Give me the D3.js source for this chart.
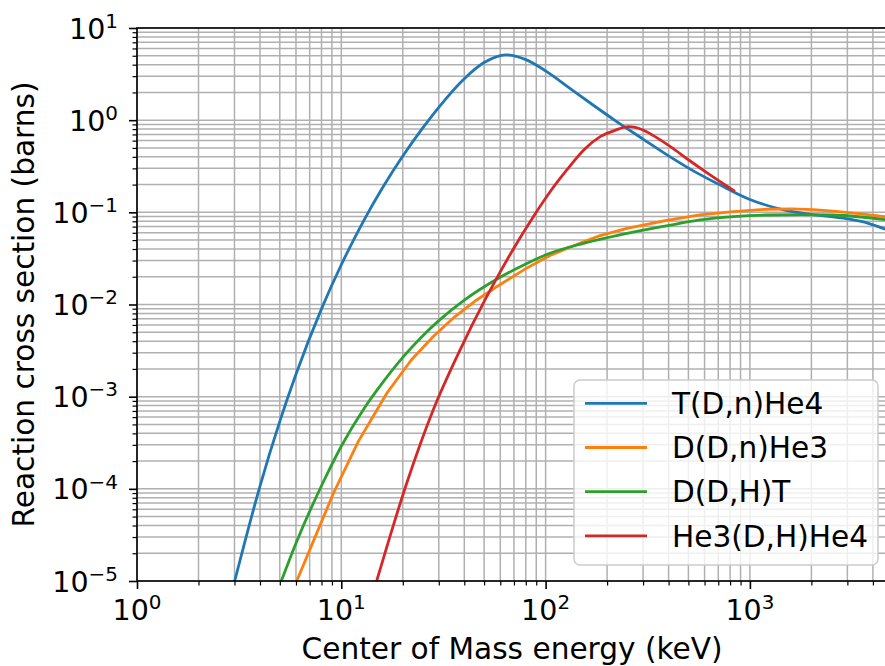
<!DOCTYPE html>
<html>
<head>
<meta charset="utf-8">
<script src="https://cdn.jsdelivr.net/npm/d3@7"></script>
<style>
  html, body { margin: 0; padding: 0; background: #fff; }
  svg { display: block; }
  text { font-family: "DejaVu Sans", sans-serif; fill: #000; }
</style>
</head>
<body>
<svg id="chart" width="885" height="666"></svg>
<script>
// Reaction cross sections (barns) vs centre-of-mass energy (keV)
const seriesNames = ["T(D,n)He4", "D(D,n)He3", "D(D,H)T", "He3(D,H)He4"];
const seriesColors = ["#1f77b4", "#ff7f0e", "#2ca02c", "#d62728"];

const dtEnergy = [3, 4, 5, 6, 8, 10, 13, 16, 20, 25, 30, 40, 50, 64, 80, 100, 130, 170, 220, 300, 400, 550, 700, 1000, 1500, 2000, 3000, 3800, 4700];
const dtSigma  = [9.8e-6, 1.07e-4, 5.39e-4, 1.75e-3, 8.97e-3, 0.027, 0.0845, 0.188, 0.408, 0.82, 1.38, 2.82, 4.22, 5.12, 4.54, 3.43, 2.26, 1.47, 0.984, 0.623, 0.41, 0.268, 0.203, 0.138, 0.105, 0.095, 0.085, 0.076, 0.0645];

const ddnEnergy = [6.05, 9.14, 12.1, 16.7, 22, 28.2, 36, 46, 60, 80, 105, 150, 185, 250, 392, 570, 829, 1208, 1600, 2043, 2559, 3500, 4700];
const ddnSigma  = [1e-5, 8.9e-5, 3.25e-4, 1.09e-3, 2.5e-3, 4.5e-3, 7.4e-3, 0.0112, 0.0165, 0.0245, 0.034, 0.047, 0.056, 0.067, 0.082, 0.094, 0.1017, 0.108, 0.109, 0.107, 0.103, 0.096, 0.089];

const ddpEnergy = [5, 6, 8, 10, 13, 16, 20, 25, 30, 40, 57.6, 80, 105, 150, 200, 300, 400, 570, 829, 1208, 1800, 2559, 3500, 4700];
const ddpSigma  = [9.04e-6, 2.57e-5, 1.08e-4, 2.9e-4, 7.6e-4, 1.44e-3, 2.67e-3, 4.56e-3, 6.68e-3, 0.01116, 0.0188, 0.0275, 0.036, 0.0455, 0.053, 0.064, 0.072, 0.0826, 0.0897, 0.0935, 0.0945, 0.0935, 0.089, 0.0826];

const dhe3Energy = [14.9, 20.9, 28.2, 38.1, 50.5, 57.6, 70, 87.1, 105, 127, 155, 185, 220, 254, 300, 337, 420, 500, 600, 700, 845];
const dhe3Sigma  = [1e-5, 1.15e-4, 7.2e-4, 3.2e-3, 0.0112, 0.0192, 0.0411, 0.0897, 0.166, 0.288, 0.484, 0.662, 0.78, 0.85, 0.782, 0.68, 0.494, 0.372, 0.28, 0.222, 0.1686];

const xTickExps = [0, 1, 2, 3];
const yTickExps = [-5, -4, -3, -2, -1, 0, 1];

const series = [
  { name: seriesNames[0], color: seriesColors[0], E: dtEnergy,   s: dtSigma,   curve: d3.curveMonotoneX },
  { name: seriesNames[1], color: seriesColors[1], E: ddnEnergy,  s: ddnSigma,  curve: d3.curveLinear },
  { name: seriesNames[2], color: seriesColors[2], E: ddpEnergy,  s: ddpSigma,  curve: d3.curveMonotoneX },
  { name: seriesNames[3], color: seriesColors[3], E: dhe3Energy, s: dhe3Sigma, curve: d3.curveMonotoneX }
];

// Layout
const plotLeft = 137, plotTop = 28, plotBottom = 581;
const decadeX = 204.3;
const xMax = 4700;
const plotRight = plotLeft + decadeX * Math.log10(xMax);
const FS = 28.5;      // tick labels
const LFS = 29.6;     // axis titles and legend

const svg = d3.select("#chart");
const x = d3.scaleLog().domain([1, xMax]).range([plotLeft, plotRight]);
const y = d3.scaleLog().domain([1e-5, 10]).range([plotBottom, plotTop]);

// minor tick values
const xMinor = [], yMinor = [];
for (let e = 0; e <= 3; e++) for (let m = 2; m <= 9; m++) { const v = m * Math.pow(10, e); if (v <= xMax) xMinor.push(v); }
for (let e = -5; e <= 0; e++) for (let m = 2; m <= 9; m++) yMinor.push(m * Math.pow(10, e));
const xMajor = xTickExps.map(k => Math.pow(10, k));
const yMajor = yTickExps.map(k => Math.pow(10, k));

// Grid (major + minor)
const grid = svg.append("g").attr("stroke", "#b0b0b0").attr("stroke-width", 1.5);
grid.selectAll(".gx").data(xMajor.concat(xMinor)).join("line")
  .attr("x1", d => x(d)).attr("x2", d => x(d)).attr("y1", plotTop).attr("y2", plotBottom);
grid.selectAll(".gy").data(yMajor.concat(yMinor)).join("line")
  .attr("x1", plotLeft).attr("x2", plotRight).attr("y1", d => y(d)).attr("y2", d => y(d));

// Curves
svg.append("clipPath").attr("id", "plotclip").append("rect")
  .attr("x", plotLeft).attr("y", plotTop).attr("width", plotRight - plotLeft).attr("height", plotBottom - plotTop);
const plot = svg.append("g").attr("clip-path", "url(#plotclip)");
series.forEach(sr => {
  const pts = sr.E.map((e, i) => [e, sr.s[i]]);
  const line = d3.line().x(d => x(d[0])).y(d => y(d[1])).curve(sr.curve);
  plot.append("path").attr("d", line(pts)).attr("fill", "none")
    .attr("stroke", sr.color).attr("stroke-width", 2.8).attr("stroke-linejoin", "round");
});

// Axes via d3 axis generators (tick marks only; labels drawn as superscript text)
const xAxisMajor = d3.axisBottom(x).tickValues(xMajor).tickSize(8).tickFormat("");
const xAxisMinor = d3.axisBottom(x).tickValues(xMinor).tickSize(4.5).tickFormat("");
const yAxisMajor = d3.axisLeft(y).tickValues(yMajor).tickSize(8).tickFormat("");
const yAxisMinor = d3.axisLeft(y).tickValues(yMinor).tickSize(4.5).tickFormat("");

function styleAxis(g, w) {
  g.select(".domain").remove();
  g.selectAll(".tick line").attr("stroke", "#000").attr("stroke-width", w);
}
svg.append("g").attr("transform", `translate(0,${plotBottom})`).call(xAxisMajor).call(g => styleAxis(g, 1.6));
svg.append("g").attr("transform", `translate(0,${plotBottom})`).call(xAxisMinor).call(g => styleAxis(g, 1.2));
svg.append("g").attr("transform", `translate(${plotLeft},0)`).call(yAxisMajor).call(g => styleAxis(g, 1.6));
svg.append("g").attr("transform", `translate(${plotLeft},0)`).call(yAxisMinor).call(g => styleAxis(g, 1.2));

// Spines
svg.append("rect").attr("x", plotLeft).attr("y", plotTop)
  .attr("width", plotRight - plotLeft).attr("height", plotBottom - plotTop)
  .attr("fill", "none").attr("stroke", "#000").attr("stroke-width", 1.6);

// Tick labels of the form 10^k
function powLabel(sel, k) {
  sel.append("tspan").text("10");
  sel.append("tspan").attr("dy", -0.375 * FS).attr("font-size", 0.7 * FS)
    .text(k < 0 ? "\u2212" + Math.abs(k) : String(k));
}
xTickExps.forEach(k => {
  const t = svg.append("text").attr("x", x(Math.pow(10, k))).attr("y", 620)
    .attr("text-anchor", "middle").attr("font-size", FS);
  powLabel(t, k);
});
yTickExps.forEach(k => {
  const t = svg.append("text").attr("x", 118).attr("y", y(Math.pow(10, k)) + 10.5)
    .attr("text-anchor", "end").attr("font-size", FS);
  powLabel(t, k);
});

// Axis titles
svg.append("text").attr("x", (plotLeft + plotRight) / 2).attr("y", 659)
  .attr("text-anchor", "middle").attr("font-size", LFS).text("Center of Mass energy (keV)");
svg.append("text").attr("transform", `translate(34,${(plotTop + plotBottom) / 2}) rotate(-90)`)
  .attr("text-anchor", "middle").attr("font-size", LFS).text("Reaction cross section (barns)");

// Legend
const lg = svg.append("g");
lg.append("rect").attr("x", 574).attr("y", 380).attr("width", 304).attr("height", 185)
  .attr("rx", 6).attr("fill", "#fff").attr("fill-opacity", 0.8).attr("stroke", "#cccccc").attr("stroke-width", 1.5);
series.forEach((sr, i) => {
  const cy = 403.3 + i * 44.2;
  lg.append("line").attr("x1", 585).attr("x2", 647).attr("y1", cy).attr("y2", cy)
    .attr("stroke", sr.color).attr("stroke-width", 2.8);
  lg.append("text").attr("x", 672).attr("y", cy + 10.6).attr("font-size", LFS).text(sr.name);
});
</script>
</body>
</html>
